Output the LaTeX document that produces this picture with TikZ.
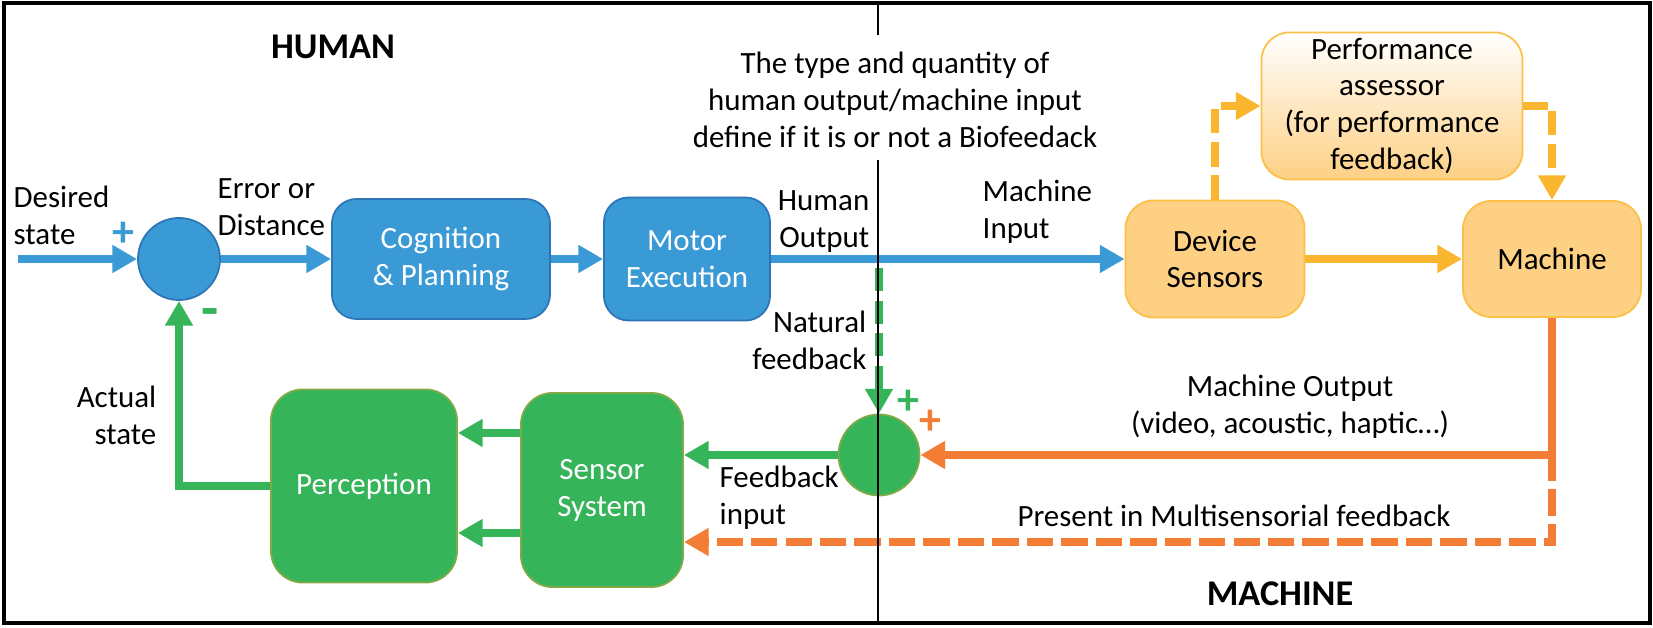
\documentclass[tikz,border=0pt]{standalone}
\usepackage{fontspec}
\setmainfont{Carlito}
\usetikzlibrary{arrows.meta,positioning}

\definecolor{hmblue}{RGB}{58,154,214}
\definecolor{hmblueline}{RGB}{46,117,182}
\definecolor{hmgreen}{RGB}{54,180,90}
\definecolor{hmgreenline}{RGB}{130,170,70}
\definecolor{mcfill}{RGB}{253,208,132}
\definecolor{mcline}{RGB}{251,192,72}
\definecolor{mcarrow}{RGB}{251,182,48}
\definecolor{mcout}{RGB}{243,125,52}

\begin{document}
\begin{tikzpicture}[x=0.01cm, y=-0.01cm,
		every node/.style={font=\fontsize{8.8}{10.5}\selectfont, inner sep=0pt},
		heading/.style={font=\fontsize{10.3}{12}\selectfont\bfseries},
		bluebox/.style={draw=hmblueline, line width=0.5pt, fill=hmblue, rounded corners=7pt, text=white, align=center},
		greenbox/.style={draw=hmgreenline, line width=0.5pt, fill=hmgreen, rounded corners=9pt, text=white, align=center},
		mcbox/.style={draw=mcline, line width=0.5pt, fill=mcfill, rounded corners=8pt, align=center},
		sumnode/.style={circle, line width=0.5pt},
		signtext/.style={font=\fontsize{12.5}{12.5}\selectfont\bfseries},
		tip/.style={-{Triangle[length=7pt, width=7.5pt]}},
		bluearr/.style={tip, draw=hmblue, line width=2.2pt},
		greenarr/.style={tip, draw=hmgreen, line width=2.2pt},
		mcarr/.style={tip, draw=mcarrow, line width=2.2pt},
		outarr/.style={tip, draw=mcout, line width=2.2pt},
		longdash/.style={dash pattern=on 7pt off 2.4pt}
	]
		\useasboundingbox (0,0) rectangle (1653,628);
		\draw [line width=0.9pt] (4,3) rectangle (1650,623);

		\node [heading] (human) at (333,47) {HUMAN};
		\node [heading] (machine) at (1280,594) {MACHINE};
		\node [align=center] (biofb) at (895,100) {The type and quantity of\\human output/machine input\\define if it is or not a Biofeedack};

		% forward path
		\node [sumnode, draw=hmblueline, fill=hmblue, minimum size=0.82cm] (sumh) at (179,259) {};
		\node [bluebox, minimum width=2.18cm, minimum height=1.20cm] (cog) at (441,259) {Cognition\\\& Planning};
		\node [bluebox, minimum width=1.66cm, minimum height=1.23cm] (motor) at (687,259) {Motor\\Execution};
		\node [mcbox, minimum width=1.79cm, minimum height=1.17cm] (devs) at (1215,259) {Device\\Sensors};
		\node [mcbox, minimum width=1.78cm, minimum height=1.16cm] (mach) at (1552,259) {Machine};
		\node [mcbox, top color=white, middle color=white!88!mcfill, bottom color=mcfill,
			minimum width=2.61cm, minimum height=1.47cm] (perf) at (1392,106) {Performance\\assessor\\(for performance\\feedback)};

		% feedback path
		\node [sumnode, draw=hmgreenline, fill=hmgreen, minimum size=0.81cm] (sumf) at (879,455) {};
		\node [greenbox, minimum width=1.62cm, minimum height=1.94cm] (senss) at (602,490) {Sensor\\System};
		\node [greenbox, minimum width=1.86cm, minimum height=1.93cm] (perc) at (364,486) {Perception};

		% signal labels
		\node [anchor=west, align=left] (desired) at (13,215) {Desired\\state};
		\node [anchor=west, align=left] (errdist) at (217,207) {Error or\\Distance};
		\node [anchor=east, align=right] (humout) at (870,222) {Human\\Output};
		\node [anchor=west, align=left] (machin) at (982,212) {Machine\\Input};
		\node [anchor=east, align=right] (natfb) at (867,340) {Natural\\feedback};
		\node [anchor=west, align=left] (fbin) at (719,498) {Feedback\\input};
		\node [anchor=east, align=right] (actual) at (157,415) {Actual\\state};
		\node [align=center] (machout) at (1290,407) {Machine Output\\(video, acoustic, haptic…)};
		\node [anchor=base] (multis) at (1234,527) {Present in Multisensorial feedback};

		\node [signtext, text=hmblue] (plush) at (123,234) {+};
		\node [signtext, text=hmgreen, font=\fontsize{16}{16}\selectfont\bfseries] (minush) at (210,318) {-};
		\node [signtext, text=hmgreen] (plusg) at (908,402) {+};
		\node [signtext, text=mcout] (pluso) at (930,422) {+};

		\coordinate (desin) at (18,259);
		\coordinate (natst) at (879,268);
		\coordinate (mbranch) at (mach.south |- sumf);

		\draw [bluearr] (desin) -- (sumh);
		\draw [bluearr] (sumh) -- (cog);
		\draw [bluearr] (cog) -- (motor);
		\draw [bluearr] (motor) -- (devs);
		\draw [mcarr] (devs) -- (mach);
		\draw [mcarr, longdash] (devs.north) |- (perf.west);
		\draw [mcarr, longdash] (perf.east) -| (mach.north);

		\draw [outarr] (mach.south) |- (sumf.east);
		\draw [outarr, dash pattern=on 7.5pt off 2.3pt] (mbranch) |- (senss.east |- 0,542);
		\draw [greenarr, dash pattern=on 6.5pt off 2.8pt] (natst) -- (sumf.north);
		\draw [greenarr] (sumf.west) -- (sumf.west -| senss.east);
		\draw [greenarr] (senss.west |- 0,433) -- (perc.east |- 0,433);
		\draw [greenarr] (senss.west |- 0,533) -- (perc.east |- 0,533);
		\draw [greenarr] (perc.west) -| (sumh.south);

		% human / machine divide
		\coordinate (divtop) at (878,3);
		\coordinate (divbot) at (878,623);
		\draw [line width=0.85pt] (divtop) -- (878,35);
		\draw [line width=0.85pt] (878,160) -- (divbot);
	\end{tikzpicture}
\end{document}
